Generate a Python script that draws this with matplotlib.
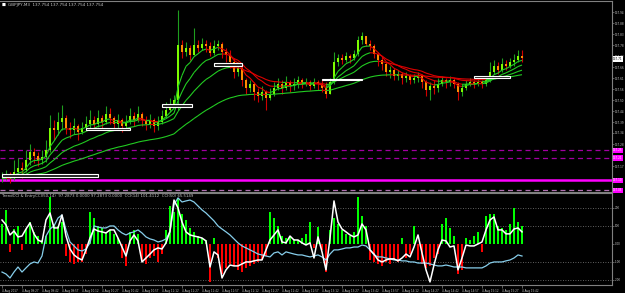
import numpy as np
import pandas as pd
import matplotlib
matplotlib.use("Agg")
import matplotlib.pyplot as plt
from matplotlib.collections import LineCollection
from matplotlib.patches import Rectangle
from matplotlib.transforms import blended_transform_factory

# ---- data ----
header = "GBPJPY,M3  137.754 137.754 137.754 137.754"
sub_header = "TrendCCI & EntryCCI(50,14)  97.2873 0.0000 97.2873 0.0000  CCI(14) 101.4112  CCI(50) 65.5149"
start_time = "2017-08-04 09:12"

close = [137.110, 137.120, 137.110, 137.140, 137.160, 137.150, 137.200, 137.240, 137.220, 137.200,
         137.215, 137.250, 137.360, 137.350, 137.390, 137.410, 137.360, 137.350, 137.370, 137.340,
         137.360, 137.380, 137.400, 137.380, 137.410, 137.390, 137.430, 137.410, 137.380, 137.400,
         137.370, 137.390, 137.420, 137.400, 137.430, 137.400, 137.380, 137.400, 137.370, 137.390,
         137.420, 137.450, 137.480, 137.500, 137.775, 137.740, 137.760, 137.725, 137.775, 137.760,
         137.780, 137.770, 137.735, 137.770, 137.780, 137.740, 137.725, 137.690, 137.640, 137.660,
         137.600, 137.560, 137.580, 137.540, 137.520, 137.540, 137.510, 137.530, 137.560, 137.580,
         137.560, 137.590, 137.570, 137.580, 137.600, 137.580, 137.590, 137.570, 137.590, 137.580,
         137.560, 137.530, 137.590, 137.690, 137.710, 137.700, 137.720, 137.710, 137.730, 137.800,
         137.820, 137.780, 137.770, 137.730, 137.700, 137.680, 137.640, 137.650, 137.620, 137.630,
         137.610, 137.620, 137.600, 137.610, 137.620, 137.590, 137.550, 137.570, 137.560, 137.580,
         137.600, 137.590, 137.600, 137.580, 137.540, 137.560, 137.580, 137.590, 137.580, 137.590,
         137.580, 137.600, 137.640, 137.670, 137.650, 137.680, 137.670, 137.690, 137.700, 137.720,
         137.710]
high = [137.140, 137.150, 137.140, 137.200, 137.210, 137.190, 137.250, 137.280, 137.260, 137.240,
        137.250, 137.300, 137.425, 137.400, 137.440, 137.475, 137.425, 137.390, 137.410, 137.380,
        137.390, 137.420, 137.450, 137.420, 137.450, 137.425, 137.470, 137.460, 137.420, 137.430,
        137.410, 137.425, 137.460, 137.440, 137.470, 137.440, 137.420, 137.430, 137.410, 137.420,
        137.450, 137.490, 137.510, 137.525, 137.950, 137.800, 137.790, 137.775, 137.860, 137.800,
        137.810, 137.800, 137.790, 137.800, 137.800, 137.790, 137.760, 137.750, 137.710, 137.690,
        137.670, 137.610, 137.600, 137.590, 137.560, 137.570, 137.550, 137.560, 137.590, 137.610,
        137.600, 137.620, 137.600, 137.610, 137.620, 137.610, 137.610, 137.600, 137.610, 137.600,
        137.600, 137.590, 137.610, 137.740, 137.730, 137.730, 137.740, 137.730, 137.750, 137.820,
        137.840, 137.820, 137.800, 137.780, 137.740, 137.720, 137.690, 137.670, 137.660, 137.650,
        137.640, 137.640, 137.630, 137.630, 137.640, 137.630, 137.600, 137.590, 137.600, 137.610,
        137.620, 137.610, 137.620, 137.610, 137.590, 137.580, 137.600, 137.610, 137.600, 137.610,
        137.600, 137.620, 137.690, 137.700, 137.690, 137.710, 137.700, 137.710, 137.730, 137.750,
        137.750]
low = [137.090, 137.100, 137.085, 137.100, 137.120, 137.110, 137.140, 137.175, 137.185, 137.170,
       137.180, 137.190, 137.240, 137.300, 137.325, 137.350, 137.330, 137.310, 137.330, 137.300,
       137.330, 137.350, 137.360, 137.350, 137.365, 137.360, 137.380, 137.380, 137.350, 137.360,
       137.340, 137.360, 137.380, 137.370, 137.390, 137.370, 137.350, 137.360, 137.340, 137.350,
       137.380, 137.410, 137.440, 137.460, 137.450, 137.710, 137.720, 137.700, 137.725, 137.740,
       137.750, 137.740, 137.720, 137.725, 137.750, 137.710, 137.690, 137.660, 137.610, 137.620,
       137.570, 137.530, 137.540, 137.500, 137.490, 137.500, 137.450, 137.500, 137.520, 137.550,
       137.530, 137.550, 137.540, 137.550, 137.560, 137.560, 137.570, 137.550, 137.560, 137.550,
       137.540, 137.510, 137.540, 137.580, 137.670, 137.680, 137.690, 137.685, 137.700, 137.720,
       137.780, 137.770, 137.750, 137.710, 137.670, 137.650, 137.620, 137.610, 137.600, 137.600,
       137.580, 137.590, 137.580, 137.585, 137.590, 137.560, 137.520, 137.500, 137.530, 137.540,
       137.570, 137.560, 137.570, 137.560, 137.500, 137.520, 137.550, 137.570, 137.560, 137.570,
       137.560, 137.570, 137.590, 137.630, 137.630, 137.640, 137.650, 137.660, 137.670, 137.690,
       137.690]

trend_cci = [111, 189, -44, 83, 100, -33, 83, 122, 67, 44,
             22, 44, 261, 111, 100, 122, -67, -100, -111, -100,
             -100, -56, 178, 144, 100, 89, 67, 78, 56, 33,
             -78, -122, 67, 78, 56, -89, -111, -78, -67, -100,
             -56, 78, 211, 178, 256, 167, 133, 89, 67, 44,
             33, 22, -211, 33, -78, -167, -133, -111, -122, -144,
             -156, -133, -122, -111, -100, -89, -67, 178, 144, 100,
             44, 33, 44, 28, 22, 33, 56, 122, -22, 94,
             -33, -156, 78, 144, 111, 78, 56, 44, 67, 261,
             156, 100, -89, -100, -111, -122, -100, -111, -89, -100,
             33, -78, -56, 100, -89, -111, -133, -122, -78, -56,
             111, 144, 89, 44, -167, -144, 33, 22, 44, 67,
             -44, 156, 167, 167, 100, 89, 78, 111, 200, 122,
             100]
entry_cci = [133, 106, 50, 72, 39, 44, 83, 117, 56, 22,
             11, 133, 172, 89, 89, 161, 44, -28, -61, -78,
             -89, -33, 33, 83, 72, 67, 61, 78, 78, 33,
             -17, -67, 17, 50, 17, -100, -78, -56, -33, -22,
             -28, 6, 72, 244, 200, 122, 67, 50, 44, 39,
             33, 17, -128, -44, -61, -189, -144, -117, -122, -122,
             -111, -100, -100, -94, -89, -89, -33, 22, 50, 78,
             11, 6, 44, 22, 22, 6, -6, 6, -78, 39,
             -44, -144, 33, 239, 122, 83, 67, 50, 39, 50,
             111, 78, -33, -56, -89, -100, -89, -83, -83, -94,
             -78, -56, -72, -17, 50, -50, -144, -211, -117, -33,
             22, 17, -17, -11, -144, -78, -6, -11, -11, 0,
             11, 78, 133, 150, 78, 78, 56, 56, 83, 89,
             67]
slow_cci = [-156, -167, -189, -156, -128, -156, -133, -111, -100, -106,
            -67, 44, 83, 100, 144, 161, 78, 11, -11, -33,
            -39, -28, 6, 100, 94, 89, 89, 100, 100, 78,
            61, 50, 61, 67, 78, 61, 39, 28, 22, 11,
            17, 28, 67, 217, 256, 233, 239, 244, 233, 211,
            189, 172, 150, 128, 100, 83, 67, 50, 28, 6,
            -11, -22, -33, -44, -56, -61, -67, -72, -50, -44,
            -61, -44, -50, -56, -61, -61, -67, -72, -67, -61,
            -72, -89, -56, -33, -33, -28, -22, -22, -17, -17,
            -6, -11, -33, -61, -72, -72, -78, -83, -89, -89,
            -94, -94, -100, -100, -106, -106, -106, -111, -117, -122,
            -122, -117, -122, -128, -128, -128, -133, -133, -133, -133,
            -133, -122, -106, -100, -100, -100, -94, -89, -78, -61,
            -67]

ma_periods = [5, 10, 20, 50]

# breakout boxes (bar index range, price range)
box_start = [0, 21, 40, 53, 80, 118]
box_end = [24, 32, 47.5, 60, 90, 127]
box_low = [137.117, 137.348, 137.463, 137.668, 137.598, 137.608]
box_high = [137.128, 137.360, 137.480, 137.685, 137.606, 137.622]

# horizontal levels
levels = [137.248, 137.210, 137.098, 137.048]

# ---- figure ----
W, H = 625, 293
fig = plt.figure(figsize=(W / 100, H / 100), dpi=100, facecolor="black")
ax = fig.add_axes([0, (H - 192) / H, 612 / W, 191 / H])
ax2 = fig.add_axes([0, (H - 285) / H, 612 / W, 92 / H])

grey = "#808080"
txt = "#C8C8C8"
for a in (ax, ax2):
    a.set_facecolor("black")
    a.set_xlim(-0.5, 152.5)
    a.spines["left"].set_visible(False)
    for s in ("top", "right", "bottom"):
        a.spines[s].set_color(grey)
        a.spines[s].set_linewidth(0.8)
    a.yaxis.tick_right()
    a.tick_params(axis="y", length=1.5, width=0.5, color=grey, labelsize=2.0,
                  labelcolor=txt, pad=0.5)

idx = np.arange(len(close))
c = np.array(close)
o = np.r_[c[0], c[:-1]]
h = np.maximum(np.array(high), np.maximum(o, c))
l = np.minimum(np.array(low), np.minimum(o, c))
up = c >= o

# candles
ax.vlines(idx[up], l[up], h[up], color="#1E9E1E", lw=0.8, zorder=3)
ax.vlines(idx[~up], l[~up], h[~up], color="#D00000", lw=0.8, zorder=3)
body_lo = np.minimum(o, c)
body_h = np.maximum(np.abs(c - o), 0.002)
ax.bar(idx[up], body_h[up], bottom=body_lo[up], width=0.55, color="#7CFC00", zorder=3)
ax.bar(idx[~up], body_h[~up], bottom=body_lo[~up], width=0.55, color="#FF8C00", zorder=3)

# moving averages, coloured by slope
cs = pd.Series(close)
for p in ma_periods:
    ma = cs.ewm(span=p, adjust=False).mean().to_numpy()
    pts = np.column_stack([idx, ma])
    segs = np.stack([pts[:-1], pts[1:]], axis=1)
    cols = np.where(np.diff(ma) >= 0, "#22CC22", "#E00000")
    ax.add_collection(LineCollection(segs, colors=cols, linewidths=0.8, zorder=4))

# boxes
for s, e, lo, hi in zip(box_start, box_end, box_low, box_high):
    ax.add_patch(Rectangle((s, lo), e - s, hi - lo, fill=True, fc="#202020",
                           ec="white", lw=0.8, zorder=5))

# levels
lvl_col = ["#A000A0", "#A000A0", "#FF00FF", "#B070B0"]
lvl_ls = [(0, (4, 3)), (0, (4, 3)), "-", (0, (4, 3))]
lvl_lw = [0.9, 0.9, 1.8, 0.9]
tr = blended_transform_factory(ax.transAxes, ax.transData)
for lv, col, ls, lw in zip(levels, lvl_col, lvl_ls, lvl_lw):
    ax.axhline(lv, color=col, ls=ls, lw=lw, zorder=2)
    ax.text(1.002, lv, f"{lv:.2f}", transform=tr, fontsize=2.0, color="white",
            va="center", ha="left", clip_on=False,
            bbox=dict(boxstyle="square,pad=0.2", fc="#FF00FF", ec="none"))

ax.set_ylim(137.040, 137.995)
ticks = [t for k, t in enumerate(137.940 - 0.055 * np.arange(17)) if k not in (13, 15, 16)]
ax.set_yticks(ticks)
ax.set_yticklabels([f"{t:.2f}" for t in ticks])
ax.set_xticks([])

# current price
ax.text(1.002, c[-1] - 0.005, f"{c[-1]:.2f}", transform=tr, fontsize=2.0, color="black",
        va="center", ha="left", clip_on=False,
        bbox=dict(boxstyle="square,pad=0.2", fc="white", ec="none"))

# ---- indicator window ----
bar_col = np.where(np.array(trend_cci) >= 0, "#00FF00", "#FF0000")
ax2.bar(idx, trend_cci, width=0.4, color=bar_col, zorder=2)
for lv in (200, 100, -100, -200):
    ax2.axhline(lv, color=grey, ls=(0, (1, 2)), lw=0.6, zorder=1)
ax2.plot(idx, slow_cci, color="#87CEEB", lw=0.9, zorder=3)
ax2.plot(idx, entry_cci, color="white", lw=1.1, zorder=4)
ax2.set_ylim(-228, 283)
ax2.set_yticks([200, 100, 0, -100, -200])
ax2.set_yticklabels(["200", "100", "0.00", "-100", "-200"])

times = pd.date_range(start_time, periods=len(close), freq="3min")
tpos = idx[::5]
tlab = ["4 Aug 2017"] + [f"4 Aug {t:%H:%M}" for t in times[tpos[1:]]]
ax2.set_xticks(tpos)
ax2.set_xticklabels(tlab, ha="left")
ax2.tick_params(axis="x", length=2, width=0.5, color=grey, labelsize=2.0,
                labelcolor=txt, pad=1)

fig.text(2 / W, 1 - 5 / H, "\u25a0", fontsize=3, color="white", va="center")
fig.text(8 / W, 1 - 5 / H, header, fontsize=3, color=txt, va="center")
fig.text(2 / W, 1 - 196 / H, sub_header, fontsize=2.8, color=txt, va="center")

fig.savefig("out.png", dpi=100, facecolor="black")
